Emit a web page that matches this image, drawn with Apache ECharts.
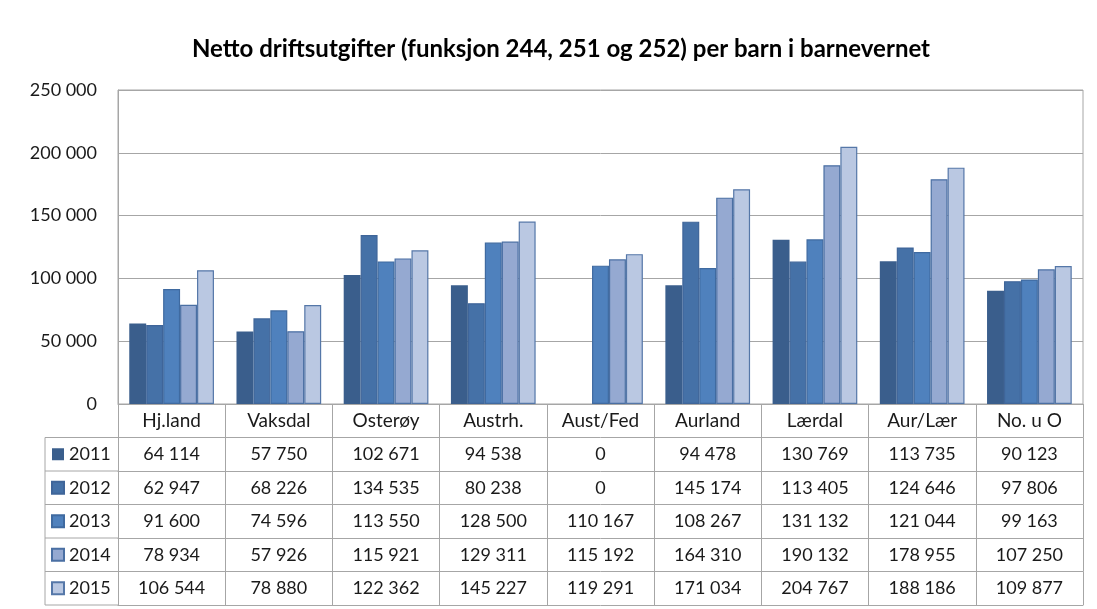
<!DOCTYPE html>
<html>
<head>
<meta charset="utf-8">
<script src="https://cdn.jsdelivr.net/npm/echarts@6/dist/echarts.min.js"></script>
<style>html,body{margin:0;padding:0;background:#fff}#c{width:1097px;height:609px}</style>
</head>
<body>
<div id="c"></div>
<script>
const titleText = 'Netto driftsutgifter (funksjon 244, 251 og 252) per barn i barnevernet';
const categories = ['Hj.land', 'Vaksdal', 'Osterøy', 'Austrh.', 'Aust/Fed', 'Aurland', 'Lærdal', 'Aur/Lær', 'No. u O'];
const years = ['2011', '2012', '2013', '2014', '2015'];
const v2011 = [64114, 57750, 102671, 94538, 0, 94478, 130769, 113735, 90123];
const v2012 = [62947, 68226, 134535, 80238, 0, 145174, 113405, 124646, 97806];
const v2013 = [91600, 74596, 113550, 128500, 110167, 108267, 131132, 121044, 99163];
const v2014 = [78934, 57926, 115921, 129311, 115192, 164310, 190132, 178955, 107250];
const v2015 = [106544, 78880, 122362, 145227, 119291, 171034, 204767, 188186, 109877];
const yTicks = [0, 50000, 100000, 150000, 200000, 250000];

const seriesValues = [v2011, v2012, v2013, v2014, v2015];
const colors = ['#3A5E8C', '#4571A7', '#4F81BD', '#95A9D1', '#BAC8E2'];
const borders = ['#3A5E8C', '#3F6599', '#3F6AA0', '#4A6FA3', '#5577A8'];

const FONT = 'Lato, "Open Sans", sans-serif';
const TXT = '#1a1a1a';
const LINE = '#A6A6A6';
const gridLeft = 118, gridRight = 14, gridTop = 90, gridBottom = 205;
const chartH = 609;
const axisY = chartH - gridBottom; // 404
const rowH = 33.5;
const tableLeft = 45;

function fmt(n) {
  return String(n).replace(/\B(?=(\d{3})+(?!\d))/g, ' ');
}

const xAxes = [];
// header row: category names
xAxes.push({
  type: 'category', data: categories, position: 'bottom', offset: 0, gridIndex: 0,
  axisLine: { show: true, lineStyle: { color: LINE, width: 1 } },
  axisTick: { show: true, length: rowH, interval: 0, lineStyle: { color: LINE, width: 1 } },
  axisLabel: { show: true, interval: 0, margin: rowH / 2, verticalAlign: 'middle', fontFamily: FONT, fontSize: 19, color: TXT },
  splitLine: { show: false }
});
// data rows
seriesValues.forEach((vals, k) => {
  xAxes.push({
    type: 'category', data: categories, position: 'bottom', offset: rowH * (k + 1), gridIndex: 0,
    axisLine: { show: true, lineStyle: { color: LINE, width: 1 } },
    axisTick: { show: true, length: rowH, interval: 0, lineStyle: { color: LINE, width: 1 } },
    axisLabel: { show: true, interval: 0, margin: rowH / 2, verticalAlign: 'middle', fontFamily: FONT, fontSize: 18, color: TXT,
      formatter: (val, idx) => fmt(vals[idx]) },
    splitLine: { show: false }
  });
});
// bottom line of table
xAxes.push({
  type: 'category', data: categories, position: 'bottom', offset: rowH * (seriesValues.length + 1), gridIndex: 0,
  axisLine: { show: true, lineStyle: { color: LINE, width: 1 } },
  axisTick: { show: false }, axisLabel: { show: false }, splitLine: { show: false }
});

// left column of table (legend cells) border lines
const leftCol = [];
const tableTop = axisY + rowH;
const tableBottom = axisY + rowH * (seriesValues.length + 1);
leftCol.push({ type: 'line', shape: { x1: tableLeft, y1: tableTop, x2: tableLeft, y2: tableBottom }, style: { stroke: LINE, lineWidth: 1 } });
for (let k = 0; k <= seriesValues.length; k++) {
  const y = tableTop + rowH * k;
  leftCol.push({ type: 'line', shape: { x1: tableLeft, y1: y, x2: gridLeft, y2: y }, style: { stroke: LINE, lineWidth: 1 } });
}

const option = {
  animation: false,
  backgroundColor: '#fff',
  title: {
    text: titleText, left: 556, textAlign: 'center', top: 32,
    textStyle: { fontFamily: FONT, fontSize: 24, fontWeight: 'bold', color: '#000' }
  },
  legend: {
    data: years, orient: 'vertical', left: 51, top: tableTop + rowH / 2 - 9,
    itemWidth: 12, itemHeight: 12, itemGap: rowH - 18, padding: 0,
    icon: 'rect',
    textStyle: { fontFamily: FONT, fontSize: 18, color: TXT, lineHeight: 18 }
  },
  grid: {
    left: gridLeft, right: gridRight, top: gridTop, bottom: gridBottom,
    show: true, borderColor: LINE, borderWidth: 1, containLabel: false, outerBoundsMode: 'none'
  },
  xAxis: xAxes,
  yAxis: {
    type: 'value', min: yTicks[0], max: yTicks[yTicks.length - 1], interval: yTicks[1] - yTicks[0],
    axisLine: { show: true, lineStyle: { color: LINE } },
    axisTick: { show: false },
    axisLabel: { margin: 21, fontFamily: FONT, fontSize: 18, color: TXT, formatter: v => fmt(v) },
    splitLine: { show: true, lineStyle: { color: LINE, width: 1 } }
  },
  graphic: leftCol,
  series: seriesValues.map((vals, k) => ({
    name: years[k], type: 'bar', xAxisIndex: 0,
    data: vals.map(v => v === 0 ? { value: v, itemStyle: { borderWidth: 0, opacity: 0 } } : v),
    barGap: '0%', barCategoryGap: '21%',
    itemStyle: { color: colors[k], borderColor: borders[k], borderWidth: k === 0 ? 0 : 1.2 }
  }))
};

const chart = echarts.init(document.getElementById('c'));
chart.setOption(option);
</script>
</body>
</html>
